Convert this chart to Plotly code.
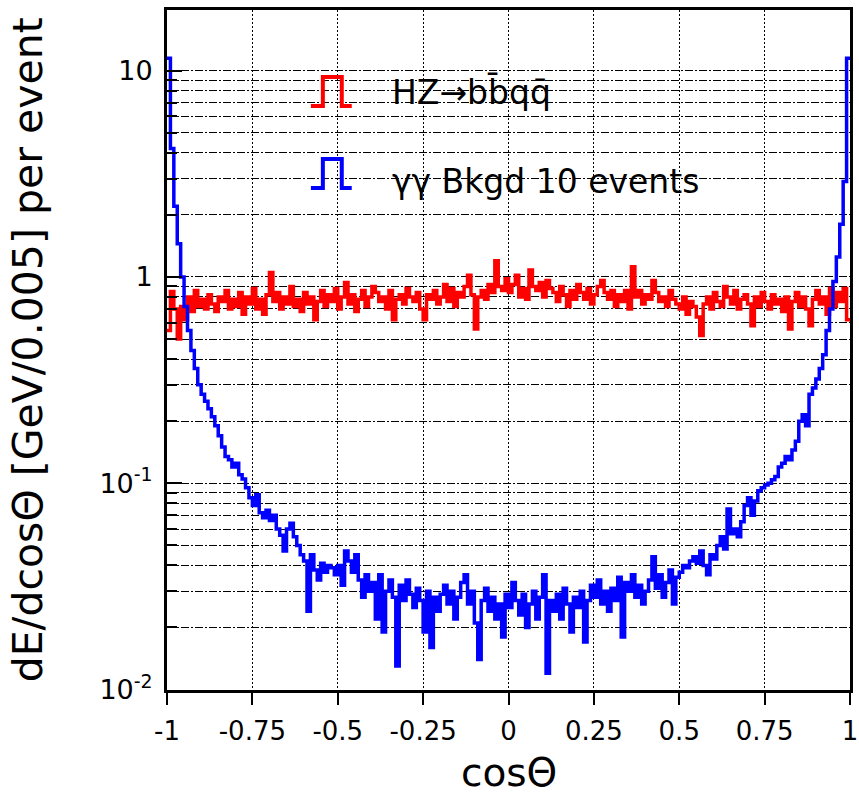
import numpy as np
import plotly.graph_objects as go

# ---- data, bins of width 0.01 from -1 to 1 ----
cos_min, cos_max = -1.0, 1.0

hz_signal = [
    0.55, 0.85, 0.70, 0.50, 0.72, 0.62, 0.80, 0.68, 0.86, 0.72,
    0.78, 0.70, 0.82, 0.74, 0.68, 0.80, 0.76, 0.86, 0.70, 0.78,
    0.72, 0.84, 0.66, 0.80, 0.74, 0.88, 0.70, 0.78, 0.66, 0.82,
    1.05, 0.76, 0.84, 0.70, 0.80, 0.74, 0.90, 0.72, 0.78, 0.68,
    0.84, 0.74, 0.80, 0.62, 0.76, 0.86, 0.72, 0.82, 0.76, 0.88,
    0.70, 0.80, 0.94, 0.74, 0.82, 0.68, 0.78, 0.86, 0.72, 0.80,
    0.90, 0.84, 0.76, 0.80, 0.70, 0.86, 0.62, 0.78, 0.82, 0.74,
    0.88, 0.80, 0.76, 0.84, 0.70, 0.62, 0.82, 0.78, 0.86, 0.74,
    0.80, 0.92, 0.76, 0.88, 0.72, 0.84, 0.80, 0.90, 1.02, 0.82,
    0.56, 0.80, 0.86, 0.78, 0.92, 0.84, 1.20, 0.90, 0.86, 0.98,
    0.84, 0.92, 1.02, 0.80, 0.88, 0.78, 1.08, 0.90, 0.86, 0.94,
    0.80, 0.96, 0.88, 0.84, 0.76, 0.90, 0.82, 0.72, 0.86, 0.78,
    0.92, 0.84, 0.78, 0.88, 0.74, 0.82, 0.90, 0.96, 0.84, 0.78,
    0.86, 0.72, 0.82, 0.76, 0.86, 0.70, 1.12, 0.80, 0.86, 0.74,
    0.82, 0.78, 0.96, 0.84, 0.76, 0.80, 0.72, 0.86, 0.78, 0.74,
    0.70, 0.80, 0.66, 0.76, 0.72, 0.64, 0.52, 0.74, 0.80, 0.70,
    0.84, 0.76, 0.72, 0.90, 0.80, 0.74, 0.86, 0.70, 0.78, 0.82,
    0.74, 0.58, 0.80, 0.72, 0.84, 0.76, 0.70, 0.82, 0.74, 0.78,
    0.68, 0.80, 0.56, 0.76, 0.84, 0.72, 0.80, 0.70, 0.58, 0.78,
    0.86, 0.74, 0.80, 0.66, 0.88, 0.72, 0.84, 0.76, 0.88, 0.62,
]

gg_background = [
    11.5, 4.2, 2.2, 1.45, 1.0, 0.72, 0.55, 0.44, 0.36, 0.30,
    0.27, 0.25, 0.23, 0.21, 0.19, 0.17, 0.15, 0.135, 0.13, 0.12,
    0.125, 0.11, 0.105, 0.095, 0.085, 0.078, 0.088, 0.072, 0.068, 0.074,
    0.066, 0.070, 0.060, 0.056, 0.047, 0.060, 0.064, 0.055, 0.050, 0.045,
    0.042, 0.024, 0.045, 0.038, 0.034, 0.041, 0.037, 0.040, 0.039, 0.036,
    0.040, 0.032, 0.047, 0.042, 0.037, 0.045, 0.034, 0.028, 0.036, 0.030,
    0.033, 0.022, 0.036, 0.019, 0.030, 0.034, 0.028, 0.013, 0.032, 0.027,
    0.034, 0.029, 0.025, 0.031, 0.027, 0.019, 0.030, 0.016, 0.028, 0.024,
    0.029, 0.032, 0.026, 0.030, 0.022, 0.028, 0.033, 0.036, 0.026, 0.030,
    0.021, 0.014, 0.027, 0.031, 0.024, 0.028, 0.022, 0.026, 0.018, 0.029,
    0.025, 0.033, 0.027, 0.023, 0.029, 0.020, 0.026, 0.030, 0.022, 0.028,
    0.036, 0.012, 0.027, 0.024, 0.029, 0.022, 0.031, 0.026, 0.019, 0.028,
    0.025, 0.030, 0.017, 0.027, 0.032, 0.028, 0.034, 0.026, 0.030, 0.024,
    0.031, 0.027, 0.035, 0.018, 0.033, 0.030, 0.036, 0.028, 0.032, 0.026,
    0.030, 0.034, 0.044, 0.031, 0.036, 0.028, 0.033, 0.038, 0.026, 0.035,
    0.037, 0.040, 0.039, 0.042, 0.044, 0.041, 0.047, 0.040, 0.036, 0.045,
    0.043, 0.050, 0.055, 0.048, 0.075, 0.057, 0.060, 0.055, 0.065, 0.078,
    0.085, 0.070, 0.082, 0.092, 0.095, 0.098, 0.100, 0.104, 0.108, 0.120,
    0.125, 0.135, 0.130, 0.145, 0.160, 0.200, 0.215, 0.190, 0.27, 0.29,
    0.32, 0.36, 0.42, 0.55, 0.70, 0.95, 1.25, 1.80, 2.9, 11.5,
]

x_tickvals = [-1, -0.75, -0.5, -0.25, 0, 0.25, 0.5, 0.75, 1]
x_ticktext = ["-1", "-0.75", "-0.5", "-0.25", "0", "0.25", "0.5", "0.75", "1"]
y_tickvals = [0.01, 0.1, 1, 10]
y_ticktext = ["10<sup>-2</sup>", "10<sup>-1</sup>", "1", "10"]
y_minorvals = [m * d for d in (0.01, 0.1, 1) for m in range(2, 10)]

series_names = ["HZ\u2192bb\u0304qq\u0304", "\u03b3\u03b3 Bkgd 10 events"]
x_title = "cos\u0398"
y_title = "dE/dcos\u0398 [GeV/0.005] per event"

# ---- figure ----
edges = np.linspace(cos_min, cos_max, len(hz_signal) + 1)


def step_xy(values):
    v = list(values)
    return list(edges), v + [v[-1]]


FONT = "DejaVu Sans"
fig = go.Figure()
for vals, color, name in [(hz_signal, "#ff0000", series_names[0]),
                          (gg_background, "#0000ff", series_names[1])]:
    xs, ys = step_xy(vals)
    fig.add_trace(go.Scatter(x=xs, y=ys, mode="lines", name=name,
                             line=dict(color=color, width=3.5, shape="hv"),
                             showlegend=False))

GRID_DASH = "8px,2px,2px,2px"
fig.update_layout(
    width=859, height=798,
    margin=dict(l=167, r=9, t=10, b=108),
    paper_bgcolor="white", plot_bgcolor="white",
    font=dict(family=FONT, color="black"),
    xaxis=dict(
        range=[cos_min, cos_max], tickmode="array",
        tickvals=x_tickvals, ticktext=x_ticktext, automargin=False,
        ticklabeloverflow="allow",
        ticks="outside", ticklen=12, tickwidth=2, tickcolor="black",
        showline=True, linewidth=3, linecolor="black", mirror=True,
        showgrid=True, gridcolor="black", gridwidth=1, griddash="2px,2px",
        zeroline=False, tickfont=dict(family=FONT, size=26, color="black"),
        ticklabelstandoff=4,
    ),
    yaxis=dict(
        type="log", range=[-2.002, 1.294], tickmode="array",
        tickvals=y_tickvals, ticktext=y_ticktext, automargin=False,
        ticklabeloverflow="allow",
        ticks="inside", ticklen=15, tickwidth=2, tickcolor="black",
        showline=True, linewidth=3, linecolor="black", mirror=True,
        showgrid=True, gridcolor="black", gridwidth=1, griddash=GRID_DASH,
        zeroline=False, tickfont=dict(family=FONT, size=27, color="black"),
        ticklabelstandoff=6,
        minor=dict(tickmode="array", tickvals=y_minorvals,
                   ticks="inside", ticklen=10, tickwidth=2, tickcolor="black",
                   showgrid=True, gridcolor="black", gridwidth=1,
                   griddash=GRID_DASH),
    ),
)

# axis titles
fig.add_annotation(text=x_title, xref="paper", yref="paper", x=0.501, y=-0.122,
                   xanchor="center", yanchor="middle", showarrow=False,
                   font=dict(family=FONT, size=39, color="black"))
fig.add_annotation(text=y_title, xref="paper", yref="paper", x=-0.203, y=0.5,
                   xanchor="center", yanchor="middle", textangle=-90, showarrow=False,
                   font=dict(family=FONT, size=41, color="black"))

# legend (drawn inside the frame)
def pulse_path(x0, x1, x2, x3, ylo, yhi):
    return f"M {x0},{ylo} L {x1},{ylo} L {x1},{yhi} L {x2},{yhi} L {x2},{ylo} L {x3},{ylo}"

for (ylo, yhi, ytxt), color, name in [((0.8588, 0.9015, 0.879), "#ff0000", series_names[0]),
                                      ((0.7382, 0.7809, 0.7485), "#0000ff", series_names[1])]:
    fig.add_shape(type="path", xref="paper", yref="paper",
                  path=pulse_path(0.2107, 0.2282, 0.2559, 0.2705, ylo, yhi),
                  line=dict(color=color, width=4))
    fig.add_annotation(text=name, xref="paper", yref="paper", x=0.326, y=ytxt,
                       xanchor="left", yanchor="middle", showarrow=False,
                       font=dict(family=FONT, size=33, color="black"))

fig.write_html("out.html")
